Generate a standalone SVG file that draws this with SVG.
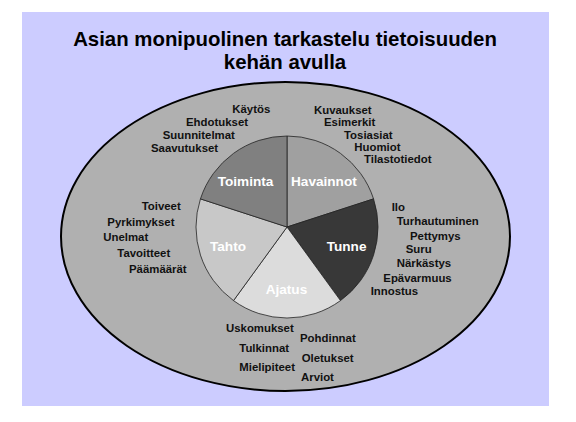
<svg xmlns="http://www.w3.org/2000/svg" width="576" height="422" viewBox="0 0 576 422">
<style>
.title{font-family:"Liberation Sans",Arial,sans-serif;font-weight:bold;font-size:20.4px;fill:#000;text-anchor:middle}
.lbl{font-family:"Liberation Sans",Arial,sans-serif;font-weight:bold;font-size:11.4px;fill:#111}
.sl{font-family:"Liberation Sans",Arial,sans-serif;font-weight:bold;font-size:13.6px;fill:#fff}
.slice{stroke:#222;stroke-width:0.8}
</style>
<rect x="0" y="0" width="576" height="422" fill="#ffffff"/>
<rect x="22" y="12" width="527" height="394" fill="#ccccff"/>
<text class="title" x="285" y="45.7">Asian monipuolinen tarkastelu tietoisuuden</text>
<text class="title" x="285" y="69">kehän avulla</text>
<g id="kehä">
<ellipse cx="285.5" cy="236.5" rx="224.5" ry="154.5" fill="#b0b0b0" stroke="#000" stroke-width="2"/>
</g>
<g id="connectors"></g>
<g id="havainnot">
<path class="slice" d="M287,227 L287,136 A91,91 0 0 1 373.55,198.88 Z" fill="#a0a0a0"/>
<text class="sl" x="291" y="186">Havainnot</text>
</g>
<g id="tunne">
<path class="slice" d="M287,227 L373.55,198.88 A91,91 0 0 1 340.49,300.62 Z" fill="#383838"/>
<text class="sl" x="326.7" y="251">Tunne</text>
</g>
<g id="ajatus">
<path class="slice" d="M287,227 L340.49,300.62 A91,91 0 0 1 233.51,300.62 Z" fill="#dcdcdc"/>
<text class="sl" x="265.7" y="294">Ajatus</text>
</g>
<g id="tahto">
<path class="slice" d="M287,227 L233.51,300.62 A91,91 0 0 1 200.45,198.88 Z" fill="#c8c8c8"/>
<text class="sl" x="210" y="251">Tahto</text>
</g>
<g id="toiminta">
<path class="slice" d="M287,227 L200.45,198.88 A91,91 0 0 1 287,136 Z" fill="#808080"/>
<text class="sl" x="217.7" y="186">Toiminta</text>
</g>
<g id="toiminta-sanat">
<text class="lbl" x="232.3" y="113.3">Käytös</text>
<text class="lbl" x="186" y="126">Ehdotukset</text>
<text class="lbl" x="162.7" y="139">Suunnitelmat</text>
<text class="lbl" x="151" y="151.5">Saavutukset</text>
</g>
<g id="havainnot-sanat">
<text class="lbl" x="314" y="113.7">Kuvaukset</text>
<text class="lbl" x="324" y="126">Esimerkit</text>
<text class="lbl" x="344" y="139">Tosiasiat</text>
<text class="lbl" x="354.3" y="151">Huomiot</text>
<text class="lbl" x="364" y="163">Tilastotiedot</text>
</g>
<g id="tahto-sanat">
<text class="lbl" x="141.7" y="210">Toiveet</text>
<text class="lbl" x="107.3" y="226">Pyrkimykset</text>
<text class="lbl" x="103.3" y="240.7">Unelmat</text>
<text class="lbl" x="117.3" y="257.3">Tavoitteet</text>
<text class="lbl" x="129" y="273.3">Päämäärät</text>
</g>
<g id="tunne-sanat">
<text class="lbl" x="391.7" y="210.7">Ilo</text>
<text class="lbl" x="396.7" y="225">Turhautuminen</text>
<text class="lbl" x="410" y="240">Pettymys</text>
<text class="lbl" x="405.7" y="252.7">Suru</text>
<text class="lbl" x="396.7" y="266.7">Närkästys</text>
<text class="lbl" x="383.3" y="281.7">Epävarmuus</text>
<text class="lbl" x="370.7" y="295">Innostus</text>
</g>
<g id="ajatus-sanat">
<text class="lbl" x="226" y="331.7">Uskomukset</text>
<text class="lbl" x="300" y="341.7">Pohdinnat</text>
<text class="lbl" x="239.3" y="352.3">Tulkinnat</text>
<text class="lbl" x="301.7" y="361.7">Oletukset</text>
<text class="lbl" x="239.3" y="370.7">Mielipiteet</text>
<text class="lbl" x="301" y="380.7">Arviot</text>
</g>
</svg>
